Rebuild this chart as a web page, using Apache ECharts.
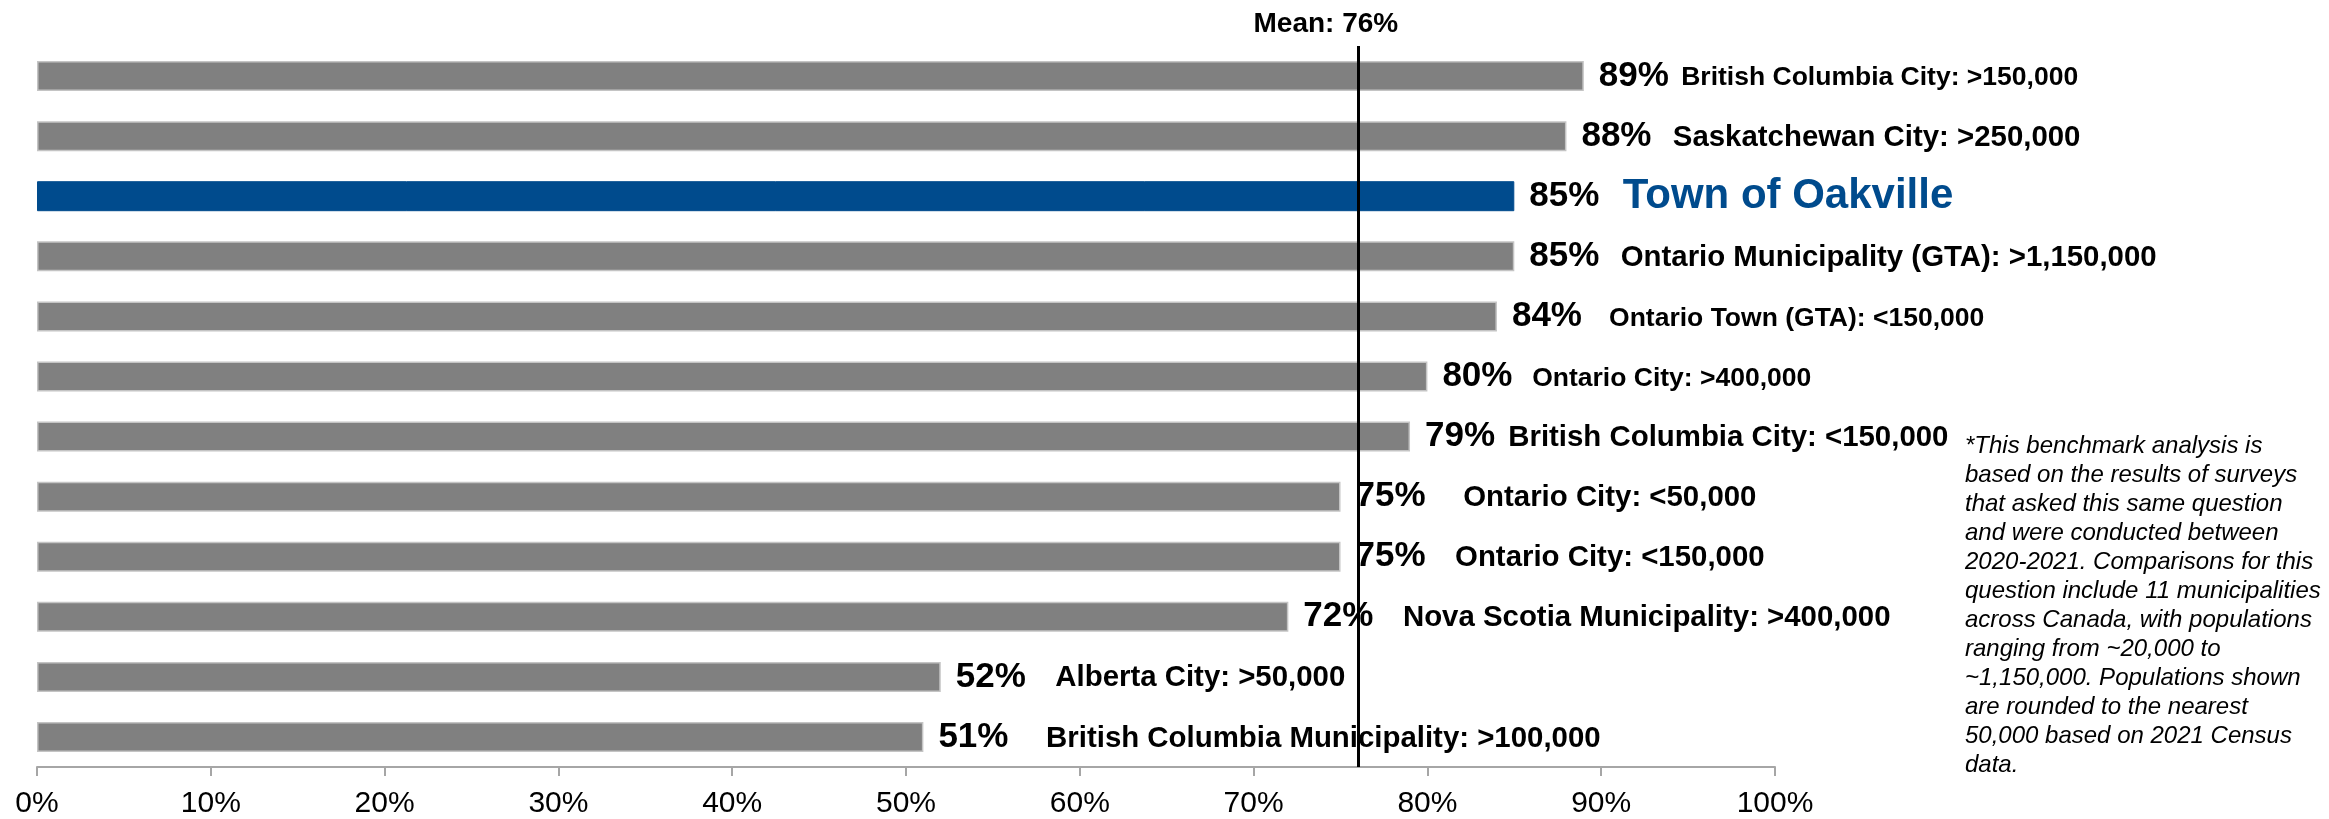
<!DOCTYPE html>
<html>
<head>
<meta charset="utf-8">
<style>
  html, body { margin: 0; padding: 0; background: #fff; }
  #chart { width: 2329px; height: 819px; }
</style>
<script src="https://cdn.jsdelivr.net/npm/echarts@6/dist/echarts.min.js"></script>
</head>
<body>
<div id="chart"></div>
<script>
// categories, top to bottom (leading spaces keep the label gaps of the original)
const categories = [
  ' British Columbia City: >150,000',
  '  Saskatchewan City: >250,000',
  'Town of Oakville',
  '  Ontario Municipality (GTA): >1,150,000',
  '   Ontario Town (GTA): <150,000',
  '  Ontario City: >400,000',
  ' British Columbia City: <150,000',
  '    Ontario City: <50,000',
  '   Ontario City: <150,000',
  '   Nova Scotia Municipality: >400,000',
  '   Alberta City: >50,000',
  '    British Columbia Municipality: >100,000'
]
const values = [89, 88, 85, 85, 84, 80, 79, 75, 75, 72, 52, 51]
const highlight = 'Town of Oakville'
const meanValue = 76
const xTicks = [0, 10, 20, 30, 40, 50, 60, 70, 80, 90, 100]
const footnote = [
  '*This benchmark analysis is',
  'based on the results of surveys',
  'that asked this same question',
  'and were conducted between',
  '2020-2021. Comparisons for this',
  'question include 11 municipalities',
  'across Canada, with populations',
  'ranging from ~20,000 to',
  '~1,150,000. Populations shown',
  'are rounded to the nearest',
  '50,000 based on 2021 Census',
  'data.'
]

const font = '"Liberation Sans", Arial, sans-serif'
// these labels are set a little smaller in the original
const smallText = [0, 4, 5]

const chart = echarts.init(document.getElementById('chart'))

const options = {
  backgroundColor: '#fff',
  animation: false,
  grid: {
    left: 37,
    right: 554,
    top: 46,
    bottom: 52,
    containLabel: false
  },
  xAxis: {
    type: 'value',
    min: 0,
    max: 100,
    interval: 10,
    axisLine: { show: true, lineStyle: { color: '#a6a6a6', width: 2 } },
    axisTick: { show: true, length: 9, lineStyle: { color: '#a6a6a6', width: 2 } },
    splitLine: { show: false },
    axisLabel: {
      margin: 22,
      color: '#000',
      fontFamily: font,
      fontSize: 30,
      formatter: (v) => (xTicks.indexOf(v) >= 0 ? v + '%' : '')
    }
  },
  yAxis: {
    type: 'category',
    inverse: true,
    data: categories,
    axisLine: { show: false },
    axisTick: { show: false },
    axisLabel: { show: false }
  },
  series: [
    {
      type: 'bar',
      barWidth: 30,
      data: values.map((v, i) => ({
        value: v,
        itemStyle: categories[i] === highlight
          ? { color: '#004b8d', borderColor: '#004b8d', borderWidth: 1 }
          : { color: '#808080', borderColor: '#c4c4c4', borderWidth: 1.5 }
      })),
      label: {
        show: true,
        position: 'right',
        distance: 15,
        fontFamily: font,
        formatter: (p) => {
          const name = categories[p.dataIndex]
          if (name === highlight) return '{p|' + p.value + '%}{o|  ' + name + '}'
          const key = smallText.indexOf(p.dataIndex) >= 0 ? 'n' : 'm'
          return '{p|' + p.value + '%}{' + key + '|' + name + '}'
        },
        rich: {
          p: { fontFamily: font, fontSize: 35, fontWeight: 'bold', color: '#000' },
          n: { fontFamily: font, fontSize: 26.5, fontWeight: 'bold', color: '#000', padding: [4, 0, 0, 5] },
          m: { fontFamily: font, fontSize: 29.4, fontWeight: 'bold', color: '#000', padding: [3, 0, 0, 5] },
          o: { fontFamily: font, fontSize: 42, fontWeight: 'bold', color: '#004b8d' }
        }
      },
      markLine: {
        silent: true,
        symbol: 'none',
        lineStyle: { color: '#000', width: 3, type: 'solid' },
        label: {
          show: true,
          position: 'start',
          distance: 8,
          offset: [-32, 0],
          formatter: 'Mean: ' + meanValue + '%',
          fontFamily: font,
          fontSize: 28,
          fontWeight: 'bold',
          color: '#000'
        },
        data: [{ xAxis: meanValue }]
      }
    }
  ],
  graphic: [
    {
      type: 'text',
      left: 1965,
      top: 432,
      style: {
        text: footnote.join('\n'),
        fontFamily: font,
        fontStyle: 'italic',
        fontSize: 24,
        lineHeight: 29,
        fill: '#000'
      }
    }
  ]
}

chart.setOption(options, true)
</script>
</body>
</html>
